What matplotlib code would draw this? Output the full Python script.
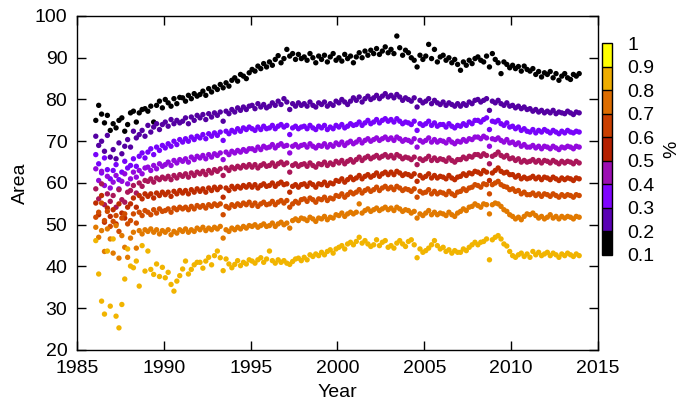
import numpy as np
import matplotlib
matplotlib.use("Agg")
import matplotlib.pyplot as plt
from matplotlib.colors import ListedColormap, BoundaryNorm
from matplotlib.cm import ScalarMappable

# six samples per year, 1986-2013
years = [y + (k + 0.5) / 6 for y in range(1986, 2014) for k in range(6)]

levels = [0.1, 0.2, 0.3, 0.4, 0.5, 0.6, 0.7, 0.8, 0.9]

p10 = [75.0, 78.6, 76.5, 74.4, 76.2, 72.6,
       74.2, 73.2, 75.0, 75.6, 72.4, 74.0,
       76.8, 77.2, 74.6, 76.8, 77.6, 77.8,
       77.2, 78.4, 74.6, 78.6, 79.6, 78.0,
       80.0, 79.2, 78.4, 80.2, 79.0, 80.5,
       80.4, 79.6, 81.0, 80.2, 81.4, 80.8,
       81.2, 82.0, 81.0, 82.6, 81.8, 83.0,
       82.4, 83.6, 82.8, 84.0, 83.2, 84.6,
       85.2, 84.4, 86.0, 85.6, 85.0, 86.4,
       87.2, 86.8, 88.0, 87.4, 88.6, 87.8,
       89.0, 88.2, 89.6, 90.5, 88.8, 89.8,
       92.0, 90.4, 91.0, 89.6, 90.8, 89.8,
       90.2, 89.4, 91.0, 90.0, 88.8, 90.4,
       89.6, 90.6, 89.0, 90.2, 91.0, 89.4,
       90.0, 89.2, 90.8, 89.8, 90.4, 88.8,
       90.2, 91.2, 90.0, 91.6, 90.6, 91.8,
       91.0, 92.2, 90.8, 91.6, 92.6, 91.2,
       92.0, 91.0, 95.2, 92.4, 90.6, 91.8,
       91.2, 90.0, 89.4, 87.8, 90.6, 89.6,
       90.4, 93.2, 89.8, 92.0, 89.0, 90.2,
       90.6, 89.4, 90.0, 88.8, 89.6, 88.4,
       87.0, 89.0, 88.2, 89.4, 88.6, 89.8,
       90.2, 89.4, 89.0, 90.4, 87.8, 91.0,
       89.6, 88.8, 86.2, 89.0, 88.4, 87.6,
       88.2, 87.4, 87.9, 86.8, 88.0, 87.2,
       86.8, 87.4, 86.0, 86.7, 85.4, 86.4,
       86.0, 86.7, 85.2, 86.2, 84.6, 85.6,
       86.2, 85.2, 84.8, 86.0, 85.6, 86.2]

p20 = [71.2, 69.0, 70.0, 67.6, 71.4, 66.2,
       68.0, 65.8, 69.6, 67.0, 68.8, 70.4,
       68.6, 72.4, 70.8, 71.6, 72.6, 71.2,
       73.8, 72.2, 73.4, 74.2, 72.8, 74.0,
       74.6, 73.6, 75.2, 74.2, 75.0, 74.4,
       74.8, 75.6, 74.2, 75.8, 75.0, 76.2,
       75.6, 76.4, 75.2, 76.6, 75.8, 76.8,
       76.2, 77.0, 74.8, 77.2, 76.6, 77.6,
       77.0, 78.0, 77.4, 78.2, 77.6, 78.4,
       78.6, 77.8, 79.0, 78.2, 78.8, 78.0,
       78.4, 79.2, 78.6, 79.6, 78.8, 80.2,
       79.4, 77.6, 79.0, 78.4, 79.2, 78.6,
       79.0, 78.4, 79.4, 78.6, 78.2, 79.2,
       78.8, 79.4, 78.4, 79.0, 78.6, 79.6,
       79.2, 80.0, 79.4, 78.8, 79.6, 80.4,
       79.8, 80.6, 79.4, 80.2, 80.8, 80.0,
       80.4, 81.0, 80.2, 80.8, 81.4, 80.6,
       81.0, 80.4, 81.2, 80.6, 79.8, 80.4,
       80.0, 79.6, 80.4, 78.2, 79.8, 79.2,
       79.6, 80.2, 79.0, 79.8, 79.2, 78.8,
       79.4, 78.6, 79.2, 78.8, 78.4, 79.0,
       78.4, 79.0, 78.6, 79.4, 79.0, 79.8,
       80.0, 79.4, 79.8, 80.2, 77.4, 79.6,
       79.2, 79.8, 79.0, 78.6, 79.2, 78.4,
       78.6, 78.0, 78.4, 77.8, 78.2, 77.6,
       77.8, 77.2, 77.6, 77.0, 77.4, 76.8,
       77.2, 76.8, 77.4, 76.6, 77.0, 76.8,
       76.6, 77.2, 76.8, 76.4, 77.0, 76.8]

p30 = [66.8, 64.6, 62.4, 66.0, 63.2, 61.0,
       63.0, 64.4, 60.8, 62.6, 65.2, 63.6,
       64.2, 65.8, 64.0, 66.4, 67.2, 66.0,
       67.4, 68.2, 66.8, 68.6, 67.8, 69.0,
       68.4, 69.4, 68.8, 70.0, 69.2, 70.4,
       69.8, 70.6, 70.0, 71.0, 70.4, 71.2,
       70.8, 71.6, 70.6, 71.8, 71.2, 72.0,
       71.4, 72.2, 70.2, 72.4, 71.8, 72.6,
       72.2, 73.0, 72.4, 73.2, 72.8, 73.4,
       73.0, 72.6, 73.4, 72.8, 73.6, 73.0,
       73.2, 73.8, 73.0, 73.6, 74.0, 73.4,
       73.8, 71.6, 73.2, 73.6, 73.0, 73.4,
       73.6, 73.0, 73.8, 73.2, 72.8, 73.6,
       73.2, 73.8, 72.8, 73.4, 73.0, 73.8,
       73.4, 74.0, 73.2, 73.6, 74.2, 73.8,
       74.0, 74.6, 73.8, 74.4, 75.0, 74.2,
       74.6, 75.2, 74.4, 75.0, 75.4, 74.8,
       75.2, 74.6, 75.4, 74.8, 74.2, 74.6,
       74.4, 74.0, 74.8, 72.6, 74.2, 73.8,
       74.2, 74.8, 73.8, 74.4, 73.6, 74.0,
       74.0, 73.4, 74.2, 73.6, 73.2, 73.8,
       73.6, 74.2, 73.8, 74.6, 74.2, 75.0,
       75.0, 74.6, 75.2, 75.6, 72.8, 74.8,
       74.6, 75.0, 74.2, 73.8, 74.4, 73.4,
       73.6, 73.0, 73.4, 72.6, 73.0, 72.4,
       72.2, 72.8, 72.0, 72.6, 72.2, 72.8,
       72.4, 72.0, 72.6, 72.2, 71.8, 72.4,
       72.0, 72.6, 72.2, 72.0, 72.4, 72.2]

p40 = [63.4, 60.6, 62.8, 59.4, 61.6, 58.8,
       60.2, 61.8, 58.6, 60.4, 62.2, 59.8,
       61.0, 62.6, 61.4, 63.0, 62.2, 63.6,
       63.8, 63.0, 64.2, 63.4, 64.6, 64.0,
       64.4, 65.0, 64.2, 65.4, 64.8, 65.6,
       65.2, 65.8, 65.0, 66.2, 65.6, 66.4,
       66.0, 66.6, 65.8, 66.8, 66.2, 67.0,
       66.6, 67.2, 65.6, 67.4, 66.8, 67.6,
       67.2, 67.8, 67.4, 68.0, 67.6, 68.2,
       68.2, 67.8, 68.6, 68.0, 68.8, 68.4,
       68.6, 69.2, 68.4, 69.0, 69.4, 68.8,
       69.0, 67.2, 68.8, 69.2, 68.6, 69.0,
       69.2, 68.6, 69.4, 68.8, 68.4, 69.0,
       68.8, 69.4, 68.6, 69.2, 68.8, 69.6,
       69.2, 69.8, 69.0, 69.6, 70.0, 69.4,
       69.8, 70.4, 69.6, 70.2, 70.6, 70.0,
       70.4, 70.8, 70.2, 70.6, 71.0, 70.4,
       70.8, 70.2, 71.0, 70.6, 70.0, 70.4,
       70.2, 69.8, 70.6, 68.6, 70.2, 69.8,
       70.2, 70.8, 69.8, 70.4, 69.8, 70.2,
       70.0, 69.6, 70.4, 69.8, 69.4, 70.0,
       69.8, 70.4, 70.0, 70.6, 70.4, 71.0,
       71.0, 70.6, 71.2, 70.8, 68.8, 70.6,
       70.4, 70.8, 70.2, 69.8, 70.4, 69.6,
       69.8, 69.2, 69.6, 68.8, 69.2, 68.6,
       68.6, 69.0, 68.4, 68.8, 68.2, 68.8,
       68.6, 68.2, 68.8, 68.4, 68.0, 68.6,
       68.4, 68.8, 68.6, 68.2, 68.8, 68.6]

p50 = [58.6, 56.2, 59.8, 54.8, 57.4, 55.6,
       57.0, 54.2, 58.4, 56.0, 55.4, 57.8,
       58.2, 59.4, 57.6, 60.0, 59.2, 60.6,
       60.4, 61.0, 60.2, 61.2, 60.8, 61.4,
       61.0, 61.6, 60.8, 61.8, 61.2, 62.0,
       61.6, 62.2, 61.4, 62.4, 61.8, 62.6,
       62.2, 62.8, 62.0, 63.0, 62.4, 63.2,
       62.8, 63.4, 61.8, 63.6, 63.0, 63.8,
       63.4, 64.0, 63.6, 64.2, 63.8, 64.4,
       63.8, 64.4, 63.6, 64.2, 64.6, 64.0,
       64.2, 64.8, 64.0, 64.6, 65.0, 64.4,
       64.8, 62.6, 64.2, 64.6, 64.0, 64.4,
       64.6, 64.0, 64.8, 64.2, 63.8, 64.6,
       64.4, 65.0, 64.2, 64.8, 64.4, 65.2,
       64.8, 65.4, 64.6, 65.2, 65.6, 65.0,
       65.6, 66.2, 65.4, 66.0, 66.4, 65.8,
       66.2, 66.6, 66.0, 66.4, 66.8, 66.2,
       66.6, 66.0, 66.8, 66.4, 65.8, 66.2,
       66.0, 65.6, 66.2, 64.4, 65.8, 65.4,
       65.8, 66.4, 65.4, 66.0, 65.4, 65.8,
       65.6, 65.2, 66.0, 65.4, 65.0, 65.6,
       65.6, 66.2, 65.8, 66.4, 66.2, 66.8,
       66.8, 66.4, 67.0, 66.6, 64.6, 66.4,
       66.8, 67.4, 66.6, 66.2, 66.6, 65.8,
       66.0, 65.4, 65.8, 65.0, 65.4, 65.0,
       65.2, 65.6, 65.0, 65.4, 64.8, 65.4,
       65.2, 64.8, 65.4, 65.0, 64.6, 65.2,
       64.8, 65.2, 65.0, 64.6, 65.2, 64.8]

p60 = [55.2, 52.4, 57.0, 50.6, 54.0, 52.0,
       53.6, 50.2, 55.0, 52.8, 51.6, 54.2,
       55.0, 56.4, 54.2, 57.0, 56.2, 57.4,
       56.8, 57.4, 56.4, 57.6, 57.0, 57.8,
       57.2, 57.8, 56.8, 58.0, 57.4, 58.2,
       57.6, 58.2, 57.4, 58.4, 57.8, 58.6,
       58.0, 58.6, 57.8, 58.8, 58.2, 59.0,
       58.4, 59.0, 56.6, 58.8, 58.2, 59.2,
       58.6, 59.2, 58.8, 59.4, 59.0, 59.6,
       59.0, 59.6, 58.8, 59.4, 59.8, 59.2,
       59.4, 60.0, 59.2, 59.8, 60.2, 59.6,
       59.8, 57.8, 59.2, 59.6, 59.0, 59.6,
       59.8, 59.2, 60.0, 59.6, 59.0, 59.8,
       59.6, 60.2, 59.4, 60.0, 59.8, 60.6,
       60.4, 61.0, 60.2, 60.8, 61.4, 60.8,
       61.2, 61.8, 61.0, 61.6, 62.0, 61.4,
       61.8, 62.4, 61.6, 62.2, 62.6, 62.0,
       62.6, 62.0, 62.8, 62.4, 61.8, 62.2,
       62.0, 61.6, 62.2, 60.4, 61.8, 61.2,
       61.6, 62.2, 61.2, 61.8, 61.2, 61.6,
       61.4, 61.0, 61.8, 61.2, 60.8, 61.4,
       61.6, 62.2, 61.8, 62.4, 62.2, 62.8,
       62.6, 62.2, 63.0, 62.6, 60.6, 62.4,
       63.0, 63.6, 62.8, 62.4, 62.6, 62.0,
       62.0, 61.4, 61.8, 61.0, 61.4, 61.0,
       61.2, 61.6, 61.0, 61.4, 60.8, 61.4,
       61.2, 60.8, 61.4, 61.0, 60.6, 61.2,
       60.8, 61.2, 61.0, 60.6, 61.2, 61.0]

p70 = [51.8, 53.0, 55.2, 51.0, 53.2, 49.6,
       50.8, 52.2, 48.4, 51.6, 52.6, 50.2,
       51.0, 52.6, 50.4, 53.0, 52.2, 53.4,
       53.0, 52.4, 53.6, 52.8, 53.8, 53.2,
       53.4, 53.8, 53.0, 54.0, 53.6, 54.2,
       53.8, 54.2, 53.6, 54.4, 53.8, 54.6,
       54.2, 54.6, 54.0, 54.8, 54.4, 55.0,
       54.6, 55.0, 52.4, 54.4, 54.0, 54.8,
       54.4, 55.0, 54.6, 55.2, 54.8, 55.4,
       54.6, 55.2, 54.4, 55.0, 55.4, 54.8,
       55.0, 55.6, 54.8, 55.4, 55.8, 55.2,
       55.8, 54.2, 55.0, 55.6, 55.2, 56.0,
       56.2, 55.6, 56.4, 56.0, 55.4, 56.2,
       56.0, 56.6, 55.8, 56.4, 56.2, 57.0,
       56.8, 57.4, 56.6, 57.2, 57.8, 57.4,
       57.8, 58.4, 57.6, 58.2, 58.6, 58.0,
       58.4, 59.0, 58.2, 58.8, 59.2, 58.6,
       59.0, 58.4, 59.2, 58.8, 58.2, 58.6,
       58.4, 58.0, 58.6, 56.6, 58.0, 57.6,
       57.8, 58.4, 57.4, 58.0, 57.4, 57.8,
       57.6, 57.2, 58.0, 57.4, 57.0, 57.8,
       58.0, 58.6, 58.2, 58.8, 59.0, 59.6,
       59.4, 59.0, 59.8, 59.6, 57.4, 59.6,
       60.0, 60.4, 59.6, 59.2, 59.0, 58.4,
       58.6, 58.0, 58.2, 57.4, 57.8, 57.2,
       57.2, 57.6, 57.0, 57.4, 56.8, 57.4,
       57.2, 56.8, 57.4, 57.0, 56.6, 57.2,
       56.8, 57.2, 57.0, 56.6, 57.2, 57.0]

p80 = [49.4, 47.0, 48.6, 43.6, 49.0, 46.6,
       43.2, 49.8, 42.0, 47.4, 44.6, 42.2,
       46.8, 48.2, 44.4, 48.6, 47.8, 48.8,
       48.4, 49.0, 48.2, 48.8, 47.8, 48.6,
       48.2, 48.8, 47.6, 48.4, 48.0, 48.8,
       48.4, 49.0, 48.2, 48.8, 48.4, 49.2,
       48.8, 49.4, 48.6, 49.2, 48.8, 49.4,
       49.0, 49.6, 46.8, 48.8, 48.4, 49.2,
       48.8, 49.4, 49.0, 49.6, 49.2, 49.8,
       49.6, 50.0, 49.4, 49.8, 50.2, 49.6,
       49.8, 50.4, 49.6, 50.2, 50.6, 50.0,
       50.4, 49.2, 51.0, 51.4, 51.0, 51.6,
       51.4, 51.0, 51.8, 51.4, 50.8, 51.6,
       51.4, 52.0, 51.2, 51.8, 51.6, 52.4,
       52.2, 52.8, 52.0, 52.6, 53.0, 52.6,
       53.0, 55.0, 52.8, 53.4, 53.8, 53.2,
       53.6, 54.0, 53.4, 53.8, 54.2, 53.6,
       54.0, 53.4, 54.2, 53.8, 53.2, 53.6,
       53.4, 52.8, 53.2, 51.6, 52.6, 52.2,
       52.8, 53.4, 52.4, 53.0, 52.4, 52.8,
       52.6, 52.2, 53.0, 52.4, 52.0, 52.8,
       53.2, 53.8, 53.4, 54.2, 54.4, 55.0,
       54.6, 54.2, 55.0, 54.8, 52.6, 54.8,
       55.2, 55.0, 54.4, 53.6, 53.2, 52.4,
       52.0, 51.4, 51.8, 51.2, 52.0, 52.6,
       52.4, 52.8, 52.2, 51.6, 52.0, 51.4,
       51.8, 52.4, 51.6, 52.0, 51.4, 52.0,
       51.6, 52.0, 51.8, 51.4, 52.0, 51.8]

p90 = [46.2, 38.2, 31.7, 28.6, 43.7, 30.5,
       46.6, 28.1, 25.3, 30.9, 37.0, 44.2,
       40.1, 39.7, 41.3, 35.3, 45.0, 38.9,
       43.7, 39.3, 38.1, 40.6, 37.6, 39.8,
       37.3, 38.6, 35.7, 34.1, 36.5, 37.8,
       39.4, 41.3, 38.2, 39.3, 40.4, 41.0,
       41.0, 39.6, 41.3, 42.2, 40.4, 42.6,
       43.7, 42.1, 39.0, 41.8, 40.6, 39.7,
       40.5, 41.4, 40.2, 41.0, 40.6, 41.6,
       41.3, 40.8, 41.6, 42.1, 41.0, 41.8,
       43.7, 41.4, 40.8, 41.6, 41.0, 41.4,
       40.8, 40.5, 41.2, 41.8, 42.0, 41.4,
       42.2, 41.6, 42.8, 42.4, 43.0, 42.6,
       43.4, 42.8, 43.6, 44.0, 43.2, 44.2,
       44.6, 45.0, 44.2, 45.4, 45.8, 45.2,
       46.0, 47.0, 45.6, 46.2, 45.4, 44.8,
       45.2, 46.4, 45.0, 45.8, 46.2, 44.6,
       45.0, 44.4, 45.6, 46.2, 45.4, 44.8,
       46.0, 46.4, 45.2, 42.1, 44.2, 43.4,
       43.8, 44.4, 45.2, 46.2, 45.0, 44.2,
       44.6, 43.6, 44.0, 43.2, 43.8, 43.4,
       43.4, 44.2, 43.8, 44.6, 45.2, 45.8,
       45.2, 45.8, 46.0, 46.6, 41.6, 46.4,
       47.0, 47.4, 46.6, 45.4, 44.9, 43.6,
       42.6, 42.2, 42.8, 43.2, 42.4, 43.0,
       42.2, 43.6, 42.8, 43.4, 42.6, 43.0,
       43.4, 42.6, 43.2, 42.8, 42.2, 43.0,
       42.6, 43.2, 42.8, 42.4, 43.0, 42.6]

series = [p10, p20, p30, p40, p50, p60, p70, p80, p90]

plt.rcParams['font.family'] = ['Liberation Sans', 'DejaVu Sans']
plt.rcParams['font.size'] = 14

fig = plt.figure(figsize=(6.91, 4.01), dpi=100)
ax = fig.add_axes([0.1114, 0.1272, 0.754, 0.8329])

for lev, vals in zip(levels, series):
    ax.scatter(years, vals, s=15, c=[lev] * len(vals), cmap='gnuplot',
               vmin=0.1, vmax=1.0, edgecolors='none')

ax.set_xlim(1985, 2015)
ax.set_ylim(20, 100)
ax.set_xticks(range(1985, 2016, 5))
ax.set_yticks(range(20, 101, 10))
ax.tick_params(direction='in', length=6.5, width=1, top=True, right=True, pad=7)
for s in ax.spines.values():
    s.set_linewidth(1)
ax.set_xlabel('Year', labelpad=5)
ax.set_ylabel('Area', labelpad=4)

# stepped colour bar, 9 bands of the gnuplot palette
base = plt.get_cmap('gnuplot')
bar_cmap = ListedColormap([base(i / 8) for i in range(9)])
bounds = np.linspace(0.1, 1.0, 10)
norm = BoundaryNorm(bounds, bar_cmap.N)
cax = fig.add_axes([0.8712, 0.3641, 0.0145, 0.528])
cb = fig.colorbar(ScalarMappable(norm=norm, cmap=bar_cmap), cax=cax,
                  ticks=bounds, drawedges=True)
cb.ax.set_yticklabels(['0.1', '0.2', '0.3', '0.4', '0.5', '0.6', '0.7', '0.8', '0.9', '1'])
cb.ax.tick_params(length=0, pad=11)
cb.outline.set_linewidth(1)
cb.dividers.set_linewidth(1)
cb.set_label('%', labelpad=6)

fig.savefig('out.png', dpi=100)
